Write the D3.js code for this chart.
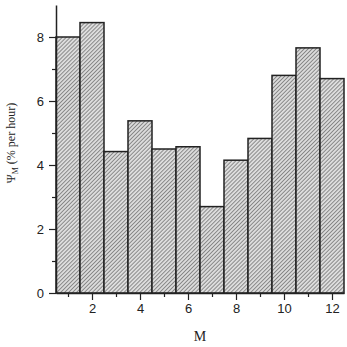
<!DOCTYPE html>
<html>
<head>
<meta charset="utf-8">
<script src="https://cdn.jsdelivr.net/npm/d3@7"></script>
<style>
  body { margin: 0; background: #fff; }
</style>
</head>
<body>
<div id="chart"></div>
<script>
// month index and rate per month
const months = [1, 2, 3, 4, 5, 6, 7, 8, 9, 10, 11, 12];
const rates = [8.0, 8.45, 4.42, 5.38, 4.5, 4.57, 2.7, 4.15, 4.83, 6.8, 7.66, 6.7];
const xMajorTicks = [2, 4, 6, 8, 10, 12];
const xMinorTicks = [1, 3, 5, 7, 9, 11];
const yMajorTicks = [0, 2, 4, 6, 8];
const yMinorTicks = [1, 3, 5, 7];

const width = 347, height = 347;
const margin = { top: 5, right: 3, bottom: 54, left: 56 };

const svg = d3.select('#chart')
  .append('svg')
  .attr('width', width)
  .attr('height', height)
  .style('font-family', 'Liberation Sans, Arial, sans-serif');

// hatch pattern
const defs = svg.append('defs');
const pat = defs.append('pattern')
  .attr('id', 'hatch')
  .attr('patternUnits', 'userSpaceOnUse')
  .attr('width', 2.8)
  .attr('height', 2.8)
  .attr('patternTransform', 'rotate(45)');
pat.append('rect').attr('width', 2.8).attr('height', 2.8).attr('fill', '#dcdcdc');
pat.append('line')
  .attr('x1', 0).attr('y1', 0).attr('x2', 0).attr('y2', 2.8)
  .attr('stroke', '#555').attr('stroke-width', 1.2);

const x = d3.scaleLinear()
  .domain([0.5, 12.5])
  .range([margin.left, width - margin.right]);

const y = d3.scaleLinear()
  .domain([0, 9])
  .range([height - margin.bottom, margin.top]);

// bars
svg.append('g')
  .selectAll('rect')
  .data(months)
  .join('rect')
  .attr('x', (d) => x(d - 0.5))
  .attr('y', (d, i) => y(rates[i]))
  .attr('width', x(1.5) - x(0.5))
  .attr('height', (d, i) => y(0) - y(rates[i]))
  .attr('fill', 'url(#hatch)')
  .attr('stroke', '#222')
  .attr('stroke-width', 1.5);

// x axis
svg.append('g')
  .attr('transform', `translate(0,${y(0)})`)
  .call(d3.axisBottom(x).tickValues(xMajorTicks).tickSize(7).tickSizeOuter(0).tickPadding(4).tickFormat(d3.format('d')));
svg.append('g')
  .attr('transform', `translate(0,${y(0)})`)
  .call(d3.axisBottom(x).tickValues(xMinorTicks).tickSize(4).tickFormat(''))
  .call(g => g.select('.domain').remove());

// y axis
svg.append('g')
  .attr('transform', `translate(${x(0.5)},0)`)
  .call(d3.axisLeft(y).tickValues(yMajorTicks).tickSize(7).tickSizeOuter(0).tickPadding(5).tickFormat(d3.format('d')));
svg.append('g')
  .attr('transform', `translate(${x(0.5)},0)`)
  .call(d3.axisLeft(y).tickValues(yMinorTicks).tickSize(4).tickFormat(''))
  .call(g => g.select('.domain').remove());

svg.selectAll('.domain').attr('stroke', '#222').attr('stroke-width', 1.5);
svg.selectAll('.tick line').attr('stroke', '#222').attr('stroke-width', 1.2);
svg.selectAll('.tick text')
  .style('font-family', 'Liberation Sans, Arial, sans-serif')
  .style('font-size', '13px')
  .attr('fill', '#222');

// axis titles
svg.append('text')
  .attr('x', 200)
  .attr('y', 341)
  .attr('text-anchor', 'middle')
  .style('font-family', 'Liberation Serif, Times New Roman, serif')
  .style('font-size', '14px')
  .attr('fill', '#222')
  .text('M');

const yTitle = svg.append('text')
  .attr('transform', 'translate(15,143) rotate(-90)')
  .attr('text-anchor', 'middle')
  .style('font-family', 'Liberation Serif, Times New Roman, serif')
  .style('font-size', '12px')
  .attr('fill', '#222');
yTitle.append('tspan').text('Ψ');
yTitle.append('tspan').attr('dy', 3).style('font-size', '8px').text('M');
yTitle.append('tspan').attr('dy', -3).text(' (% per hour)');
</script>
</body>
</html>
